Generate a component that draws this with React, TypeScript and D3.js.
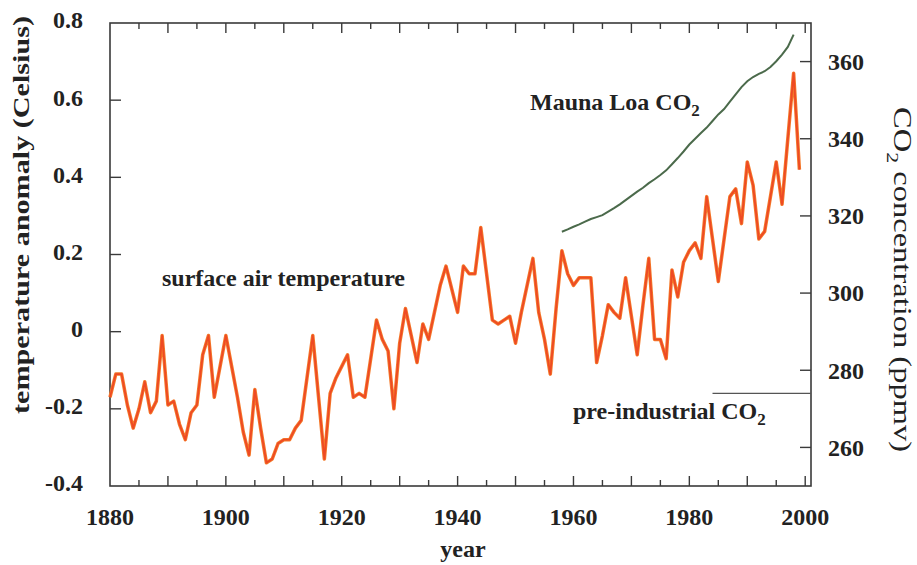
import React, { useEffect, useRef } from "react";
import * as d3 from "d3";

// annual surface air temperature anomaly, 1880..1999
const firstYear = 1880;
const tempAnomaly = [
  -0.17, -0.11, -0.11, -0.19, -0.25, -0.2, -0.13, -0.21, -0.18, -0.01,
  -0.19, -0.18, -0.24, -0.28, -0.21, -0.19, -0.06, -0.01, -0.17, -0.09,
  -0.01, -0.09, -0.17, -0.26, -0.32, -0.15, -0.25, -0.34, -0.33, -0.29,
  -0.28, -0.28, -0.25, -0.23, -0.12, -0.01, -0.17, -0.33, -0.16, -0.12,
  -0.09, -0.06, -0.17, -0.16, -0.17, -0.07, 0.03, -0.02, -0.05, -0.2,
  -0.03, 0.06, -0.01, -0.08, 0.02, -0.02, 0.05, 0.12, 0.17, 0.11,
  0.05, 0.17, 0.15, 0.15, 0.27, 0.15, 0.03, 0.02, 0.03, 0.04,
  -0.03, 0.05, 0.12, 0.19, 0.05, -0.02, -0.11, 0.06, 0.21, 0.15,
  0.12, 0.14, 0.14, 0.14, -0.08, -0.01, 0.07, 0.05, 0.035, 0.14,
  0.04, -0.06, 0.07, 0.19, -0.02, -0.02, -0.07, 0.16, 0.09, 0.18,
  0.21, 0.23, 0.19, 0.35, 0.24, 0.13, 0.24, 0.35, 0.37, 0.28,
  0.44, 0.38, 0.24, 0.26, 0.35, 0.44, 0.33, 0.5, 0.67, 0.42,
];

// Mauna Loa CO2 (ppmv), 1958..1998
const co2FirstYear = 1958;
const maunaLoaCO2 = [
  315.9, 316.5, 317.2, 317.8, 318.5, 319.2, 319.7, 320.2, 321.1, 322.0,
  323.0, 324.1, 325.2, 326.3, 327.3, 328.5, 329.5, 330.6, 331.8, 333.4,
  335.0, 336.7, 338.5, 340.0, 341.5, 342.9, 344.6, 346.3, 347.7, 349.6,
  351.5, 353.4, 354.9, 356.0, 356.8, 357.5, 358.6, 360.1, 361.8, 363.8,
  367.0,
];

const preIndustrialCO2 = 274;
const preIndustrialYears = [1984, 2001];

const yearTicks = [1880, 1900, 1920, 1940, 1960, 1980, 2000];
const tempTicks = [-0.4, -0.2, 0, 0.2, 0.4, 0.6, 0.8];
const co2Ticks = [260, 280, 300, 320, 340, 360];

const FONT = "'Liberation Serif', 'Times New Roman', serif";

export default function App() {
  const ref = useRef<SVGSVGElement>(null);

  useEffect(() => {
    draw();
  }, []);

  function draw() {
    const svg = d3.select(ref.current);
    svg.selectAll("*").remove();

    const left = 110, right = 811, top = 23, bottom = 486;

    const x = d3.scaleLinear().domain([1880, 2001]).range([left, right]);
    const yT = d3.scaleLinear().domain([-0.4, 0.8]).range([bottom, top]);
    const yC = d3.scaleLinear().domain([250, 370]).range([bottom, top]);

    svg.append("rect").attr("width", 917).attr("height", 565).attr("fill", "#fff");

    const axisColor = "#3a3a3a";

    // frame
    svg
      .append("rect")
      .attr("x", left)
      .attr("y", top)
      .attr("width", right - left)
      .attr("height", bottom - top)
      .attr("fill", "none")
      .attr("stroke", axisColor)
      .attr("stroke-width", 1.6);

    // year ticks, top and bottom, pointing inward
    const fiveYears = d3.range(1885, 2001, 5);
    const tickG = svg.append("g").attr("stroke", axisColor).attr("stroke-width", 1.4);
    fiveYears.forEach((yr) => {
      const len = yr % 10 === 0 ? 10 : 6;
      tickG.append("line").attr("x1", x(yr)).attr("x2", x(yr)).attr("y1", bottom).attr("y2", bottom - len);
      tickG.append("line").attr("x1", x(yr)).attr("x2", x(yr)).attr("y1", top).attr("y2", top + len);
    });
    tempTicks.slice(1, -1).forEach((v) => {
      tickG.append("line").attr("x1", left).attr("x2", left + 11).attr("y1", yT(v)).attr("y2", yT(v));
    });
    co2Ticks.forEach((v) => {
      tickG.append("line").attr("x1", right).attr("x2", right - 11).attr("y1", yC(v)).attr("y2", yC(v));
    });

    const txt = svg
      .append("g")
      .attr("font-family", FONT)
      .attr("font-weight", "bold")
      .attr("font-size", 24)
      .attr("fill", "#222");

    // left tick labels
    tempTicks.forEach((v) => {
      txt
        .append("text")
        .attr("x", 83)
        .attr("y", yT(v) - 3)
        .attr("dy", "0.35em")
        .attr("text-anchor", "end")
        .text(v === 0 ? "0" : String(v));
    });

    // right tick labels
    co2Ticks.forEach((v) => {
      txt
        .append("text")
        .attr("x", 828)
        .attr("y", yC(v))
        .attr("dy", "0.35em")
        .text(String(v));
    });

    // bottom tick labels
    yearTicks.forEach((yr) => {
      txt
        .append("text")
        .attr("x", x(yr))
        .attr("y", 525)
        .attr("text-anchor", "middle")
        .text(String(yr));
    });

    txt.append("text").attr("x", 463).attr("y", 557).attr("text-anchor", "middle").text("year");

    // axis titles
    txt
      .append("text")
      .attr("transform", "translate(29,215) rotate(-90)")
      .attr("text-anchor", "middle")
      .attr("textLength", 398)
      .attr("lengthAdjust", "spacingAndGlyphs")
      .text("temperature anomaly (Celsius)");

    const rt = txt
      .append("text")
      .attr("transform", "translate(894,107) rotate(90)")
      .attr("font-weight", "normal")
      .attr("font-size", 25)
      .attr("textLength", 345)
      .attr("lengthAdjust", "spacingAndGlyphs");
    rt.append("tspan").text("CO");
    rt.append("tspan").attr("font-size", 17).attr("dy", 7).text("2");
    rt.append("tspan").attr("dy", -7).text(" concentration (ppmv)");

    // CO2 curve
    const co2Line = d3
      .line<number>()
      .x((d, i) => x(co2FirstYear + i))
      .y((d) => yC(d));
    svg
      .append("path")
      .datum(maunaLoaCO2)
      .attr("d", co2Line)
      .attr("fill", "none")
      .attr("stroke", "#4b6a4b")
      .attr("stroke-width", 2);

    // pre-industrial level
    svg
      .append("line")
      .attr("x1", x(preIndustrialYears[0]))
      .attr("x2", x(preIndustrialYears[1]))
      .attr("y1", yC(preIndustrialCO2))
      .attr("y2", yC(preIndustrialCO2))
      .attr("stroke", "#555")
      .attr("stroke-width", 1.2);

    // temperature curve
    const tLine = d3
      .line<number>()
      .x((d, i) => x(firstYear + i))
      .y((d) => yT(d));
    svg
      .append("path")
      .datum(tempAnomaly)
      .attr("d", tLine)
      .attr("fill", "none")
      .attr("stroke", "#f47a2a")
      .attr("stroke-width", 3.5)
      .attr("stroke-linejoin", "round");
    svg
      .append("path")
      .datum(tempAnomaly)
      .attr("d", tLine)
      .attr("fill", "none")
      .attr("stroke", "#ee4a24")
      .attr("stroke-width", 1.8)
      .attr("stroke-linejoin", "round");

    // in-plot labels
    txt.append("text").attr("x", 162).attr("y", 286).text("surface air temperature");

    const ml = txt.append("text").attr("x", 530).attr("y", 110);
    ml.append("tspan").text("Mauna Loa CO");
    ml.append("tspan").attr("font-size", 17).attr("dy", 6).text("2");

    const pi = txt.append("text").attr("x", 573).attr("y", 419);
    pi.append("tspan").text("pre-industrial CO");
    pi.append("tspan").attr("font-size", 17).attr("dy", 6).text("2");
  }

  return (
    <svg
      ref={ref}
      width={917}
      height={565}
      style={{ position: "absolute", left: 0, top: 0, display: "block" }}
    />
  );
}
